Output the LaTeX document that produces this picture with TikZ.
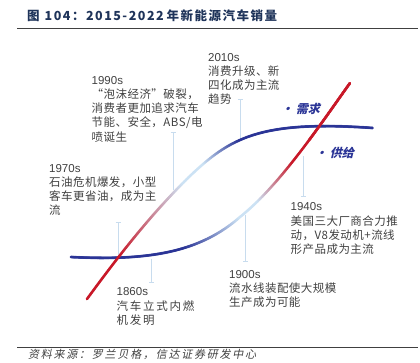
\documentclass[tikz,border=0pt]{standalone}
\usepackage{fontspec}
\setmainfont{Liberation Sans}
\newfontfamily\cjk[LetterSpace=4]{Noto Sans CJK SC}
\newfontfamily\cjkwide[LetterSpace=15]{Noto Sans CJK SC}
\newfontfamily\cjktitle[LetterSpace=12]{Noto Sans CJK SC}
\newfontfamily\cjkslant[FakeSlant=0.2,LetterSpace=16]{Noto Sans CJK SC}
\newfontfamily\cjkbi[FakeSlant=0.25]{Noto Sans CJK SC}
\usetikzlibrary{decorations.markings, arrows.meta}

\definecolor{dblue}{RGB}{42,52,150}
\definecolor{lblue}{RGB}{204,226,244}
\definecolor{dred}{RGB}{200,24,40}
\definecolor{ticblue}{RGB}{200,220,238}
\definecolor{txtgray}{RGB}{64,64,64}
\definecolor{navy}{RGB}{31,52,90}

\newcommand{\yrlab}[1]{{\rmfamily #1}}
\def\gfrom{0}\def\gto{1}
\newcommand{\gradmix}{%
  \pgfmathsetmacro{\gf}{\pgfkeysvalueof{/pgf/decoration/mark info/distance from start}/\pgfdecoratedpathlength}%
  \pgfmathsetmacro{\gp}{100*min(max((\gf-\ga)/(\gb-\ga),0),1)}%
  \pgfmathsetmacro{\gq}{100*min(max((\gf-\gc)/(\gd-\gc),0),1)}%
  \colorlet{gtmp}{lblue!\gp!\gstart}%
  \colorlet{gcol}{\gend!\gq!gtmp}%
  \fill[gcol] (0,0) circle (1.4pt);}

\tikzset{
  grad/.style n args={6}{/utils/exec={\def\gstart{#1}\def\gend{#2}\def\ga{#3}\def\gb{#4}\def\gc{#5}\def\gd{#6}},
    postaction={decorate, decoration={markings, mark=between positions \gfrom\space and \gto\space step 0.5pt with {\gradmix}}}},
  gpart/.code 2 args={\def\gfrom{#1}\def\gto{#2}},
  lead/.style={ticblue, line width=0.9pt, -{Bar[width=5pt, line width=0.9pt]}},
  blk/.style={anchor=north west, inner sep=0, align=left, text=txtgray, font=\cjk\fontsize{11.5}{14.2}\selectfont},
  curvelbl/.style={anchor=west, inner sep=0, text=dblue, font=\cjkbi\bfseries\fontsize{12}{14}\selectfont},
}

\begin{document}
\begin{tikzpicture}[x=1pt, y=-1pt]
  \useasboundingbox (0,0) rectangle (420,362);

  \node[anchor=west, inner sep=0, text=navy, font=\cjktitle\bfseries\fontsize{12.5}{14}\selectfont] (title) at (27,16) {图\hspace{5pt}104：2015-2022\hspace{3pt}年新能源汽车销量};
  \draw[line width=0.9pt, txtgray] (17,28.5) -- (418,28.5);

  \coordinate (p1860) at (151,258.5); \coordinate (t1860) at (151,283);
  \coordinate (p1970) at (118,257);   \coordinate (t1970) at (118,222);
  \coordinate (p1990) at (173,190);   \coordinate (t1990) at (173,132);
  \coordinate (p2010) at (240,140);   \coordinate (t2010) at (240,99);
  \coordinate (p1900) at (245,215);   \coordinate (t1900) at (245,262);
  \coordinate (p1940) at (303,156);   \coordinate (t1940) at (303,197);
  \draw[lead] (p1860) -- (t1860);
  \draw[lead] (p1970) -- (t1970);
  \draw[lead] (p1990) -- (t1990);
  \draw[lead] (p2010) -- (t2010);
  \draw[lead] (p1900) -- (t1900);
  \draw[lead] (p1940) -- (t1940);

  \path[grad={dblue}{dred}{0.32}{0.5}{0.57}{0.72}] (71,257) .. controls (150,261) and (200,252) .. (240,217) .. controls (280,185) and (320,125) .. (350,83);
  \path[grad={dred}{dblue}{0.15}{0.42}{0.5}{0.62}] (87,299) .. controls (117,258) and (150,215) .. (190,176) .. controls (230,138) and (260,120) .. (373,128);
  \path[gpart={0.8}{1}, grad={dblue}{dred}{0.32}{0.5}{0.57}{0.72}] (71,257) .. controls (150,261) and (200,252) .. (240,217) .. controls (280,185) and (320,125) .. (350,83);

  \node[curvelbl] (xuqiu) at (281,109) {· 需求};
  \node[curvelbl] (gongji) at (315,153) {· 供给};

  \node[blk] (b1990) at (91.5,76) {\yrlab{1990s}\\“泡沫经济”破裂，\\消费者更加追求汽车\\节能、安全，ABS/电\\喷诞生};
  \node[blk] (b2010) at (208,53) {\yrlab{2010s}\\消费升级、新\\四化成为主流\\趋势};
  \node[blk] (b1970) at (49,164) {\yrlab{1970s}\\石油危机爆发，小型\\客车更省油，成为主\\流};
  \node[blk] (b1940) at (290.5,202.6) {\yrlab{1940s}\\美国三大厂商合力推\\动，V8发动机+流线\\形产品成为主流};
  \node[blk] (b1900) at (229,270) {\yrlab{1900s}\\流水线装配使大规模\\生产成为可能};
  \node[blk, font=\cjkwide\fontsize{11.5}{14.2}\selectfont] (b1860) at (116.5,287.6) {\yrlab{1860s}\\汽车立式内燃\\机发明};

  \draw[line width=0.9pt, txtgray] (17,347.5) -- (418,347.5);
  \node[anchor=west, inner sep=0, text=txtgray, font=\cjkslant\fontsize{11}{13}\selectfont] (src) at (28,354.5) {资料来源：罗兰贝格，信达证券研发中心};
\end{tikzpicture}
\end{document}
